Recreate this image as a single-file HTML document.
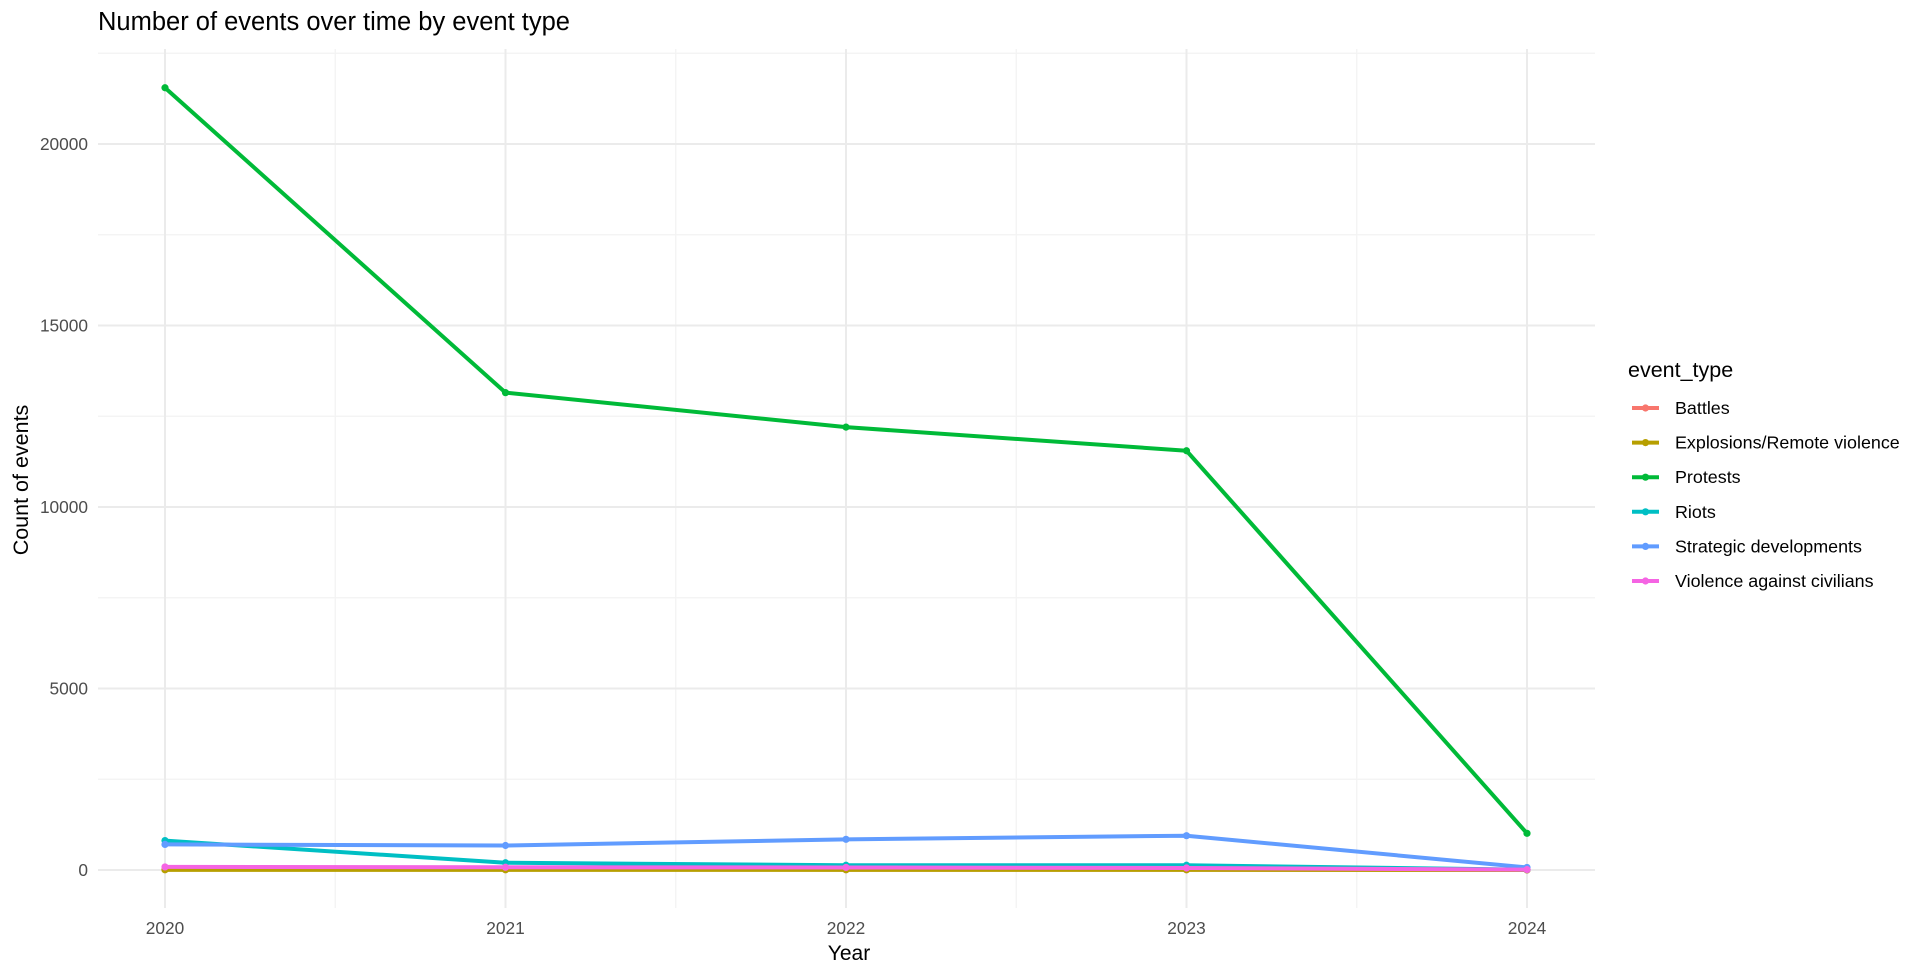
<!DOCTYPE html>
<html><head><meta charset="utf-8"><style>
html,body{margin:0;padding:0;background:#fff;}
svg{display:block;font-family:"Liberation Sans",sans-serif;}
</style></head><body>
<svg id="chart" width="1920" height="975" viewBox="0 0 1920 975" xmlns="http://www.w3.org/2000/svg">
<text x="98" y="30" font-size="25.5" fill="#000">Number of events over time by event type</text>
<g id="grid"></g>
<g id="yticks"></g>
<g id="xticks"></g>
<g id="series"></g>
<text x="849" y="960" font-size="21" text-anchor="middle" fill="#000">Year</text>
<text transform="translate(28,480) rotate(-90)" font-size="21.5" text-anchor="middle" fill="#000">Count of events</text>
<g id="legend">
<text x="1628" y="377" font-size="21.5" fill="#000">event_type</text>
</g>
</svg>
<script>
const years = [2020, 2021, 2022, 2023, 2024];
const seriesNames = ["Battles","Explosions/Remote violence","Protests","Riots","Strategic developments","Violence against civilians"];
const colors = ["#F8766D","#B79F00","#00BA38","#00BFC4","#619CFF","#F564E3"];
const battles = [20, 15, 12, 10, 2];
const explosions = [5, 5, 5, 5, 1];
const protests = [21550, 13150, 12200, 11550, 1010];
const riots = [810, 200, 130, 130, 10];
const strategic = [705, 675, 845, 945, 70];
const violence = [85, 75, 70, 55, 10];
const yTicks = [0, 5000, 10000, 15000, 20000];
const NS = "http://www.w3.org/2000/svg";
const allSeries = [battles, explosions, protests, riots, strategic, violence];
const px0 = 98, px1 = 1595, py0 = 49, py1 = 908;
function xs(v){ return 165 + (v - 2020) * (1527 - 165) / 4; }
function ys(v){ return 870 - v * (181.5 / 5000); }
function mk(tag, attrs, parent){ const e = document.createElementNS(NS, tag); for (const k in attrs) e.setAttribute(k, attrs[k]); parent.appendChild(e); return e; }
const grid = document.getElementById('grid');
for (let v = 2500; v <= 22500; v += 5000) {
  const l = mk('line', {x1:px0, x2:px1, y1:ys(v), y2:ys(v), stroke:'#f3f3f3', 'stroke-width':1.2}, grid);
  
  
}
for (let i = 0; i < years.length - 1; i++) {
  const x = (xs(years[i]) + xs(years[i+1])) / 2;
  const l = mk('line', {x1:x, x2:x, y1:py0, y2:py1, stroke:'#f3f3f3', 'stroke-width':1.2}, grid);
  
  
}
const yt = document.getElementById('yticks');
yTicks.forEach(v => {
  const l = mk('line', {x1:px0, x2:px1, y1:ys(v), y2:ys(v), stroke:'#ebebeb', 'stroke-width':2}, grid);
  
  
  const t = mk('text', {x:88, y:ys(v)+6, 'font-size':17.3, 'text-anchor':'end', fill:'#4d4d4d'}, yt);
  t.textContent = v;
  
  
});
const xt = document.getElementById('xticks');
years.forEach(y => {
  const l = mk('line', {x1:xs(y), x2:xs(y), y1:py0, y2:py1, stroke:'#ebebeb', 'stroke-width':2}, grid);
  
  
  const t = mk('text', {x:xs(y), y:934, 'font-size':17.3, 'text-anchor':'middle', fill:'#4d4d4d'}, xt);
  t.textContent = y;
  
  
});
const sg = document.getElementById('series');
allSeries.forEach((vals, i) => {
  const g = mk('g', {}, sg);
  
  
  const pl = mk('polyline', {points: vals.map((v, j) => xs(years[j]) + ',' + ys(v)).join(' '), fill:'none', stroke:colors[i], 'stroke-width':4, 'stroke-linejoin':'round'}, g);
  
  
  vals.forEach((v, j) => {
    const c = mk('circle', {cx:xs(years[j]), cy:ys(v), r:3.6, fill:colors[i]}, g);
    
    
  });
});
const lg = document.getElementById('legend');
seriesNames.forEach((n, i) => {
  const y = 408 + i * 34.6;
  const g = mk('g', {}, lg);
  
  
  mk('line', {x1:1632, x2:1659, y1:y, y2:y, stroke:colors[i], 'stroke-width':4}, g);
  mk('circle', {cx:1645.5, cy:y, r:3.6, fill:colors[i]}, g);
  const t = mk('text', {x:1675, y:y+6, 'font-size':17.9, fill:'#000'}, g);
  t.textContent = n;
});
</script>
</body></html>
